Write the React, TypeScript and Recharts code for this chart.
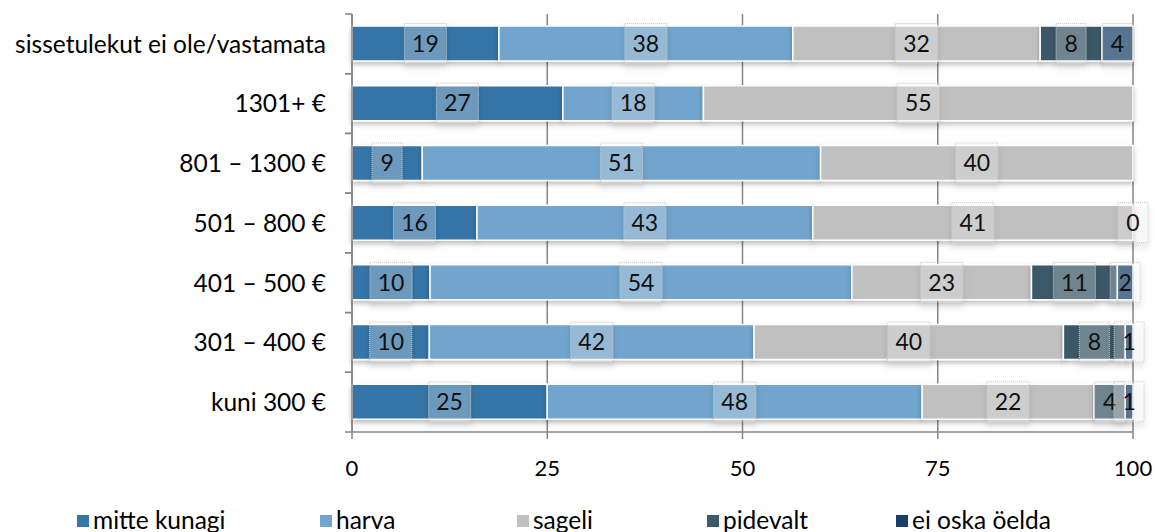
import React from "react";
import {
  BarChart, Bar, XAxis, YAxis, CartesianGrid, Legend, LabelList,
} from "recharts";

const groups = [
  "sissetulekut ei ole/vastamata",
  "1301+ €",
  "801 – 1300 €",
  "501 – 800 €",
  "401 – 500 €",
  "301 – 400 €",
  "kuni 300 €",
];

const mitteKunagi = [19, 27, 9, 16, 10, 10, 25];
const harva = [38, 18, 51, 43, 54, 42, 48];
const sageli = [32, 55, 40, 41, 23, 40, 22];
const pidevalt = [8, null, null, 0, 11, 8, 4];
const eiOska = [4, null, null, null, 2, 1, 1];

const xTicks = [0, 0.25, 0.5, 0.75, 1];

const series = [
  { key: "mitte", name: "mitte kunagi", color: "#3575a8" },
  { key: "harva", name: "harva", color: "#71a5cd" },
  { key: "sageli", name: "sageli", color: "#c0c0c0" },
  { key: "pidevalt", name: "pidevalt", color: "#3b5968" },
  { key: "eiOska", name: "ei oska öelda", color: "#173f68" },
];

const legendWidths = [243, 197, 190, 189, 200];

const data = groups.map((g, i) => ({
  group: g,
  mitte: mitteKunagi[i],
  harva: harva[i],
  sageli: sageli[i],
  pidevalt: pidevalt[i],
  eiOska: eiOska[i],
}));

const FONT = "Lato, 'DejaVu Sans', sans-serif";
const AXIS = "#868686";

const drawBox = (cx: number, cy: number, txt: string) => {
  const w = 18 + 12 * txt.length;
  const h = 40;
  return (
    <g>
      <rect
        x={cx - w / 2}
        y={cy - h / 2}
        width={w}
        height={h}
        fill="#ffffff"
        fillOpacity={0.25}
        stroke="#c8c8c8"
        strokeDasharray="1 1"
        filter="url(#boxShadow)"
      />
      <text x={cx} y={cy} dy="0.36em" textAnchor="middle" fontSize={23} fill="#111" fontFamily={FONT}>
        {txt}
      </text>
    </g>
  );
};

const ValueBox = (props: any) => {
  const { x, y, width, height, value } = props;
  if (value === null || value === undefined || value === 0) return null;
  return drawBox(x + width / 2, y + height / 2, String(value));
};

// zero-width segments get no rect, so their "0" box sits at the end of the previous segment
const ZeroBox = (props: any) => {
  const { x, y, width, height, value } = props;
  if (value !== 0) return null;
  return drawBox(x + width, y + height / 2, "0");
};

const CategoryTick = (props: any) => {
  const { x, y, payload } = props;
  const half = 59.7 / 2;
  return (
    <g>
      <line x1={x - 7} x2={x} y1={y - half} y2={y - half} stroke={AXIS} strokeWidth={1.5} />
      <line x1={x - 7} x2={x} y1={y + half} y2={y + half} stroke={AXIS} strokeWidth={1.5} />
      <text x={x - 26} y={y} dy="0.36em" textAnchor="end" fontSize={24.5} fill="#000" fontFamily={FONT}>
        {payload.value}
      </text>
    </g>
  );
};

const LegendRow = () => (
  <div style={{ height: 40, display: "flex", paddingTop: 14, paddingLeft: 77, boxSizing: "border-box", fontFamily: FONT, fontSize: 24.5, lineHeight: "27px" }}>
    {series.map((s, i) => (
      <div key={s.key} style={{ width: legendWidths[i], display: "flex", alignItems: "center", flexShrink: 0 }}>
        <span style={{ display: "inline-block", width: 12, height: 12, background: s.color, marginRight: 4, marginTop: 3 }} />
        <span>{s.name}</span>
      </div>
    ))}
  </div>
);

export default function App() {
  return (
    <div style={{ position: "absolute", left: 0, top: 0 }}>
      <BarChart
        width={1155}
        height={532}
        data={data}
        layout="vertical"
        stackOffset="expand"
        margin={{ top: 14, right: 22, left: 0, bottom: 0 }}
      >
        <defs>
          <filter id="boxShadow" x="-30%" y="-30%" width="160%" height="180%">
            <feDropShadow dx="0" dy="4" stdDeviation="3" floodColor="#000" floodOpacity="0.3" />
          </filter>
          <filter id="barShadow" x="-5%" y="-20%" width="110%" height="160%">
            <feDropShadow dx="0" dy="3" stdDeviation="2.5" floodColor="#000" floodOpacity="0.25" />
          </filter>
        </defs>
        <CartesianGrid horizontal={false} stroke={AXIS} strokeWidth={1.5} />
        <XAxis
          type="number"
          domain={[0, 1]}
          ticks={xTicks}
          tickFormatter={(v: number) => String(Math.round(v * 100))}
          axisLine={{ stroke: AXIS, strokeWidth: 1.5 }}
          tickLine={{ stroke: AXIS, strokeWidth: 1.5 }}
          tickSize={7}
          tickMargin={21}
          height={60}
          tick={{ fontSize: 22, fill: "#000", fontFamily: FONT }}
        />
        <YAxis
          type="category"
          dataKey="group"
          width={352}
          axisLine={{ stroke: AXIS, strokeWidth: 1.5 }}
          tickLine={false}
          tickSize={0}
          tickMargin={0}
          tick={<CategoryTick />}
        />
        <Legend verticalAlign="bottom" content={<LegendRow />} wrapperStyle={{ left: 0, bottom: 0, width: 1155 }} />
        {series.map((s) => (
          <Bar
            key={s.key}
            dataKey={s.key}
            name={s.name}
            stackId="a"
            fill={s.color}
            stroke="#ffffff"
            strokeWidth={1.5}
            barSize={35}
            isAnimationActive={false}
            style={{ filter: "url(#barShadow)" }}
          >
            <LabelList dataKey={s.key} content={<ValueBox />} />
            {s.key === "sageli" && <LabelList dataKey="pidevalt" content={<ZeroBox />} />}
          </Bar>
        ))}
      </BarChart>
    </div>
  );
}
